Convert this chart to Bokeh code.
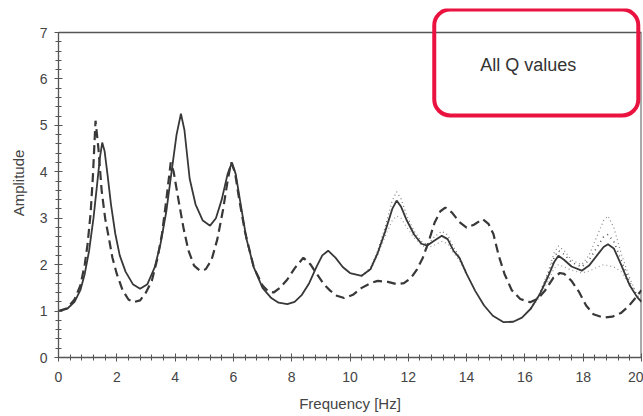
from bokeh.plotting import figure
from bokeh.models import SingleIntervalTicker, Range1d, Label, Span
from bokeh.embed import file_html
from bokeh.resources import INLINE

# ---- data ----
f_solid = [0, 0.3, 0.55, 0.75, 0.9, 1.05, 1.2, 1.32, 1.42, 1.5, 1.58, 1.68, 1.8, 1.95, 2.1, 2.3,
           2.55, 2.8, 3.05, 3.3, 3.5, 3.7, 3.9, 4.05, 4.2, 4.32, 4.5, 4.7, 4.95, 5.2, 5.4, 5.6,
           5.8, 5.95, 6.08, 6.25, 6.45, 6.7, 7.0, 7.3, 7.55, 7.85, 8.1, 8.35, 8.6, 8.85, 9.05,
           9.25, 9.5, 9.75, 10.0, 10.4, 10.7, 10.95, 11.2, 11.45, 11.6, 11.75, 11.95, 12.2,
           12.45, 12.65, 12.9, 13.15, 13.35, 13.55, 13.75, 14.0, 14.3, 14.6, 14.9, 15.27, 15.6,
           15.9, 16.2, 16.5, 16.8, 17.0, 17.15, 17.35, 17.6, 17.95, 18.2, 18.5, 18.7, 18.85,
           19.05, 19.3, 19.6, 19.85, 20]
amp_solid = [1.0, 1.05, 1.2, 1.45, 1.8, 2.3, 3.0, 3.7, 4.3, 4.63, 4.45, 3.95, 3.3, 2.66, 2.2, 1.85,
             1.58, 1.48, 1.58, 1.94, 2.45, 3.15, 4.1, 4.8, 5.25, 4.9, 3.85, 3.3, 2.95, 2.84, 3.0, 3.4,
             3.95, 4.2, 3.95, 3.3, 2.55, 1.94, 1.5, 1.28, 1.18, 1.15, 1.2, 1.35, 1.6, 1.95, 2.2,
             2.3, 2.15, 1.95, 1.82, 1.76, 1.9, 2.25, 2.7, 3.2, 3.38, 3.25, 2.95, 2.65,
             2.45, 2.41, 2.52, 2.62, 2.55, 2.3, 2.15, 1.8, 1.43, 1.12, 0.9, 0.76, 0.77,
             0.86, 1.05, 1.35, 1.75, 2.05, 2.19, 2.1, 1.96, 1.87, 1.98, 2.22, 2.38, 2.44,
             2.35, 2.0, 1.55, 1.3, 1.2]

# other Q values, where they separate from the main curve
f_dot_a = [10.4, 10.7, 10.95, 11.2, 11.45, 11.6, 11.75, 11.95, 12.2, 12.45, 12.65, 12.9, 13.15,
           13.35, 13.55, 13.75, 14.0]
amp_dot_hi_a = [1.77, 1.93, 2.3, 2.8, 3.38, 3.57, 3.42, 3.05, 2.72, 2.5, 2.43, 2.6, 2.72,
                2.64, 2.38, 2.18, 1.82]
amp_dot_lo_a = [1.75, 1.88, 2.2, 2.6, 2.95, 3.05, 3.0, 2.8, 2.58, 2.42, 2.36, 2.42, 2.5,
                2.45, 2.25, 2.1, 1.78]
f_dot_b = [16.2, 16.5, 16.8, 17.0, 17.15, 17.35, 17.6, 17.95, 18.2, 18.5, 18.7, 18.85, 19.05,
           19.3, 19.6, 19.85, 20]
amp_dot_hi_b = [1.06, 1.38, 1.85, 2.25, 2.4, 2.3, 2.1, 2.0, 2.2, 2.65, 2.95, 3.05, 2.8,
                2.25, 1.7, 1.35, 1.22]
amp_dot_mid_b = [1.05, 1.36, 1.8, 2.15, 2.3, 2.22, 2.05, 1.95, 2.1, 2.4, 2.6, 2.65, 2.5,
                 2.1, 1.62, 1.32, 1.21]
amp_dot_lo_b = [1.04, 1.3, 1.65, 1.92, 2.0, 1.95, 1.88, 1.82, 1.86, 1.95, 2.0, 1.98, 1.95,
                1.85, 1.55, 1.3, 1.2]

f_dash = [0, 0.3, 0.55, 0.75, 0.9, 1.0, 1.1, 1.18, 1.27, 1.37, 1.48, 1.6, 1.72, 1.85, 2.0, 2.2,
          2.4, 2.57, 2.8, 3.0, 3.2, 3.4, 3.55, 3.7, 3.85, 3.95, 4.12, 4.3, 4.46, 4.65, 4.85,
          5.05, 5.25, 5.45, 5.65, 5.8, 5.92, 6.05, 6.2, 6.4, 6.7, 7.0, 7.2, 7.38, 7.6, 7.85,
          8.1, 8.4, 8.65, 8.86, 9.1, 9.32, 9.55, 9.8, 10.1, 10.4, 10.7, 10.95, 11.3, 11.6,
          11.85, 12.1, 12.3, 12.5, 12.7, 12.9, 13.1, 13.27, 13.5, 13.75, 14.0, 14.25, 14.55,
          14.75, 14.92, 15.1, 15.3, 15.55, 15.84, 16.18, 16.45, 16.7, 16.98, 17.2, 17.35,
          17.6, 17.85, 18.1, 18.35, 18.7, 19.0, 19.3, 19.55, 19.75, 20]
amp_dash = [1.0, 1.06, 1.25, 1.55, 2.0, 2.45, 3.1, 3.9, 5.1, 4.5, 3.6, 3.0, 2.6, 2.15, 1.8, 1.45,
            1.25, 1.19, 1.23, 1.4, 1.65, 2.15, 2.66, 3.4, 4.2, 4.0, 3.38, 2.75, 2.3, 1.98, 1.87,
            1.9, 2.1, 2.55, 3.2, 3.8, 4.2, 4.0, 3.4, 2.7, 1.94, 1.55, 1.42, 1.4, 1.5, 1.68,
            1.92, 2.15, 2.0, 1.8, 1.58, 1.44, 1.33, 1.28, 1.35, 1.5, 1.6, 1.65, 1.63, 1.58,
            1.6, 1.72, 1.9, 2.15, 2.5, 2.9, 3.15, 3.23, 3.12, 2.92, 2.8, 2.86, 2.98,
            2.88, 2.66, 2.2, 1.8, 1.45, 1.26, 1.19, 1.27, 1.45, 1.72, 1.82, 1.8,
            1.65, 1.42, 1.12, 0.93, 0.86, 0.88, 0.96, 1.1, 1.25, 1.45]

x_label = "Frequency [Hz]"
y_label = "Amplitude"
note = "All Q values"

FONT = "Liberation Sans"

p = figure(width=643, height=416, output_backend="svg", toolbar_location=None,
           x_range=Range1d(0, 20), y_range=Range1d(0, 7.517),
           min_border_left=58, min_border_right=2, min_border_top=8, min_border_bottom=59,
           background_fill_color="white", border_fill_color="white")
p.grid.visible = False
p.outline_line_color = None

for ax, tick in ((p.xaxis[0], SingleIntervalTicker(interval=2, num_minor_ticks=5)),
                 (p.yaxis[0], SingleIntervalTicker(interval=1, num_minor_ticks=5))):
    ax.ticker = tick
    ax.axis_line_color = "#555555"
    ax.axis_line_width = 1.3
    ax.major_tick_line_color = "#555555"
    ax.minor_tick_line_color = "#555555"
    ax.major_tick_in = 4
    ax.major_tick_out = 4
    ax.minor_tick_in = 3
    ax.minor_tick_out = 3
    ax.major_label_text_font = FONT
    ax.major_label_text_font_size = "14px"
    ax.major_label_text_color = "#444444"
    ax.axis_label_text_font = FONT
    ax.axis_label_text_font_size = "15px"
    ax.axis_label_text_font_style = "normal"
    ax.axis_label_text_color = "#444444"

p.yaxis.bounds = (0, 7)
p.xaxis.axis_label = x_label
p.yaxis.axis_label = y_label
p.xaxis.major_label_standoff = 10
p.xaxis.axis_label_standoff = 10
p.yaxis.major_label_standoff = 7
p.yaxis.axis_label_standoff = 10

# frame top / right border
p.add_layout(Span(location=7, dimension="width", line_color="#555555", line_width=1.6))
p.line([20, 20], [0, 7], line_color="#555555", line_width=2)

p.line(f_dot_a, amp_dot_hi_a, line_color="#777777", line_width=1.2, line_dash="1 3")
p.line(f_dot_a, amp_dot_lo_a, line_color="#999999", line_width=1.2, line_dash="1 3")
p.line(f_dot_b, amp_dot_hi_b, line_color="#888888", line_width=1.2, line_dash="1 3")
p.line(f_dot_b, amp_dot_mid_b, line_color="#555555", line_width=1.6, line_dash="1 4")
p.line(f_dot_b, amp_dot_lo_b, line_color="#999999", line_width=1.2, line_dash="1 3")
p.line(f_solid, amp_solid, line_color="#383838", line_width=1.8)
p.line(f_dash, amp_dash, line_color="#383838", line_width=2.2, line_dash="9 5")

box = Label(x=16.39, y=6.356, text=note, text_font=FONT, text_font_size="18px",
            text_color="#333333", text_align="center", text_baseline="middle",
            background_fill_color="white", background_fill_alpha=0.0,
            border_line_color="#ea1340", border_line_width=4,
            border_radius=16,
            padding=dict(left=46, right=62, top=46, bottom=40))
p.add_layout(box)

open("out.html", "w").write(file_html(p, INLINE))
